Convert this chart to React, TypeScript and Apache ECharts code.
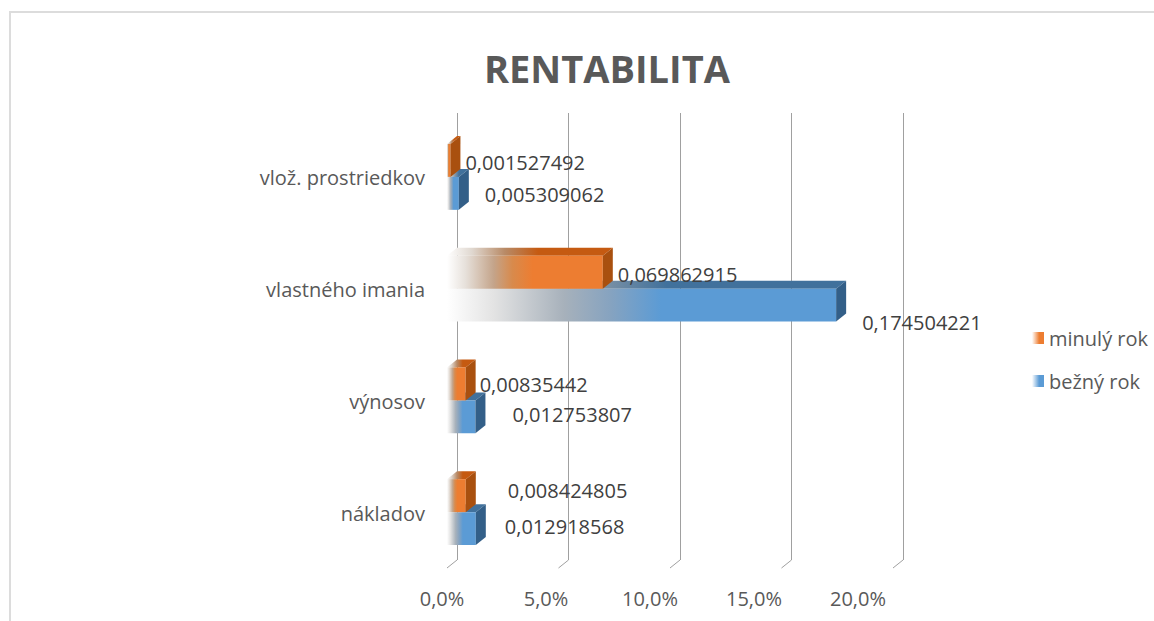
import React, { useEffect, useRef } from 'react';
import * as echarts from 'echarts';

// ---- data ----
const titleText = 'RENTABILITA';
const categories = ['vlož. prostriedkov', 'vlastného imania', 'výnosov', 'nákladov'];
const seriesNames = ['minulý rok', 'bežný rok'];
const minulyRok = [0.001527492, 0.069862915, 0.00835442, 0.008424805];
const beznyRok = [0.005309062, 0.174504221, 0.012753807, 0.012918568];
const xTicks = [0, 0.05, 0.1, 0.15, 0.2];

// ---- styling (label nudges, 3D depth) ----
const labelNudgeMinuly = [[5, 2], [5, 2], [4, 1], [32, -5]];
const labelNudgeBezny = [[16, 1], [16, 17], [27, -2], [19, -2]];
const DX = 10;
const DY = 8;
const FONT = 'Open Sans';

const fmtVal = (v: number) => String(v).replace('.', ',');
const fmtPct = (v: number) => (v * 100).toFixed(1).replace('.', ',') + '%';

const grad = (stops: [number, string][]) =>
  new echarts.graphic.LinearGradient(0, 0, 1, 0, stops.map(([offset, color]) => ({ offset, color })));

const palette = {
  orange: {
    front: () => grad([[0, '#ffffff'], [0.12, '#e6e0da'], [0.3, '#c4a48a'], [0.42, '#d88a4c'], [0.55, '#ED7D31'], [1, '#ED7D31']]),
    top: () => grad([[0, '#ffffff'], [0.15, '#e0d8d0'], [0.35, '#b88a66'], [0.55, '#C55A11'], [1, '#C55A11']]),
    side: '#A9500F',
  },
  blue: {
    front: () => grad([[0, '#ffffff'], [0.12, '#e3e3e3'], [0.3, '#a7b1bb'], [0.42, '#86a3c0'], [0.55, '#5B9BD5'], [1, '#5B9BD5']]),
    top: () => grad([[0, '#ffffff'], [0.15, '#d8d8d8'], [0.35, '#8b9aa8'], [0.55, '#41719C'], [1, '#41719C']]),
    side: '#335F88',
  },
};

function makeRender(kind: 'top' | 'bottom', pal: any, nudges: number[][]) {
  return (params: any, api: any) => {
    const v = api.value(0);
    const ci = api.value(1);
    const back0 = api.coord([0, ci]);
    const backV = api.coord([v, ci]);
    const band = api.size([0, 1])[1];
    const h = band * 0.295;
    const cyF = back0[1] + DY;
    const y0 = kind === 'top' ? cyF - h : cyF;
    const y1 = y0 + h;
    const x0 = back0[0] - DX;
    const x1 = backV[0] - DX;
    const nudge = nudges[params.dataIndex] || [5, 0];
    return {
      type: 'group',
      children: [
        {
          type: 'polygon',
          shape: { points: [[x0, y0], [x1, y0], [x1 + DX, y0 - DY], [x0 + DX, y0 - DY]] },
          style: { fill: pal.top() },
        },
        {
          type: 'rect',
          shape: { x: x0, y: y0, width: Math.max(x1 - x0, 0.5), height: h },
          style: { fill: pal.front() },
        },
        {
          type: 'polygon',
          shape: { points: [[x1, y0], [x1 + DX, y0 - DY], [x1 + DX, y1 - DY], [x1, y1]] },
          style: { fill: pal.side },
        },
        {
          type: 'text',
          z2: 100,
          style: {
            text: fmtVal(v),
            x: backV[0] + nudge[0],
            y: (y0 + y1) / 2 + nudge[1],
            fill: '#404040',
            fontSize: 20,
            fontFamily: FONT,
            align: 'left',
            verticalAlign: 'middle',
          },
        },
      ],
    };
  };
}

export default function App() {
  const ref = useRef<HTMLDivElement>(null);
  useEffect(() => {
    if (!ref.current) return;
    const chart = echarts.init(ref.current, undefined, { renderer: 'svg' });
    chart.setOption({
      animation: false,
      backgroundColor: '#ffffff',
      title: {
        text: titleText,
        left: 479,
        top: 44,
        textStyle: { fontSize: 38, fontWeight: 'bold', color: '#595959', fontFamily: FONT },
      },
      graphic: [
        {
          type: 'rect',
          shape: { x: 10, y: 12, width: 1400, height: 900 },
          style: { fill: 'none', stroke: '#dcdcdc', lineWidth: 2 },
          silent: true,
        },
      ],
      legend: {
        data: [
          { name: seriesNames[0], itemStyle: { color: grad([[0, '#ffffff'], [0.6, '#ED7D31'], [1, '#ED7D31']]) } },
          { name: seriesNames[1], itemStyle: { color: grad([[0, '#ffffff'], [0.6, '#5B9BD5'], [1, '#5B9BD5']]) } },
        ],
        orient: 'vertical',
        left: 1027,
        top: 323,
        itemWidth: 12,
        itemHeight: 12,
        itemGap: 23,
        icon: 'rect',
        selectedMode: false,
        textStyle: { fontSize: 20, color: '#595959', fontFamily: FONT },
      },
      grid: [
        { left: 457, right: 251, top: 113, bottom: 61 },
        { left: 442, right: 296, top: 113, bottom: 61 },
      ],
      xAxis: [
        {
          type: 'value',
          gridIndex: 0,
          min: 0,
          max: 0.2,
          interval: 0.05,
          axisLabel: { show: false },
          axisLine: { show: false },
          axisTick: { show: false },
          splitLine: { show: true, lineStyle: { color: '#a0a0a0', width: 1 } },
        },
        {
          type: 'value',
          gridIndex: 1,
          min: 0,
          max: 0.2,
          interval: 0.05,
          axisLabel: { formatter: fmtPct, fontSize: 20, color: '#595959', fontFamily: FONT, margin: 28 },
          axisLine: { show: false },
          axisTick: { show: false },
          splitLine: { show: false },
        },
      ],
      yAxis: [
        {
          type: 'category',
          gridIndex: 0,
          data: categories,
          inverse: true,
          axisLine: { show: false },
          axisTick: { show: false },
          axisLabel: {
            margin: 32,
            fontSize: 20,
            color: '#595959',
            fontFamily: FONT,
            verticalAlign: 'top',
            lineHeight: 18,
          },
        },
        { type: 'category', gridIndex: 1, data: categories, inverse: true, show: false },
      ],
      series: [
        {
          name: '_ticks',
          type: 'custom',
          xAxisIndex: 0,
          yAxisIndex: 0,
          silent: true,
          clip: false,
          data: xTicks.map((v) => [v, 0]),
          renderItem: (params: any, api: any) => {
            const x = api.coord([api.value(0), 0])[0];
            const bottom = params.coordSys.y + params.coordSys.height;
            return {
              type: 'line',
              shape: { x1: x, y1: bottom, x2: x - DX, y2: bottom + DY },
              style: { stroke: '#a0a0a0', lineWidth: 1 },
            };
          },
        },
        {
          name: seriesNames[1],
          type: 'custom',
          xAxisIndex: 0,
          yAxisIndex: 0,
          clip: false,
          data: beznyRok.map((v, i) => [v, i]),
          renderItem: makeRender('bottom', palette.blue, labelNudgeBezny),
        },
        {
          name: seriesNames[0],
          type: 'custom',
          xAxisIndex: 0,
          yAxisIndex: 0,
          clip: false,
          data: minulyRok.map((v, i) => [v, i]),
          renderItem: makeRender('top', palette.orange, labelNudgeMinuly),
        },
      ],
    });
    return () => chart.dispose();
  }, []);
  return (
    <div
      ref={ref}
      style={{ position: 'absolute', left: 0, top: 0, width: 1154, height: 621 }}
    />
  );
}
